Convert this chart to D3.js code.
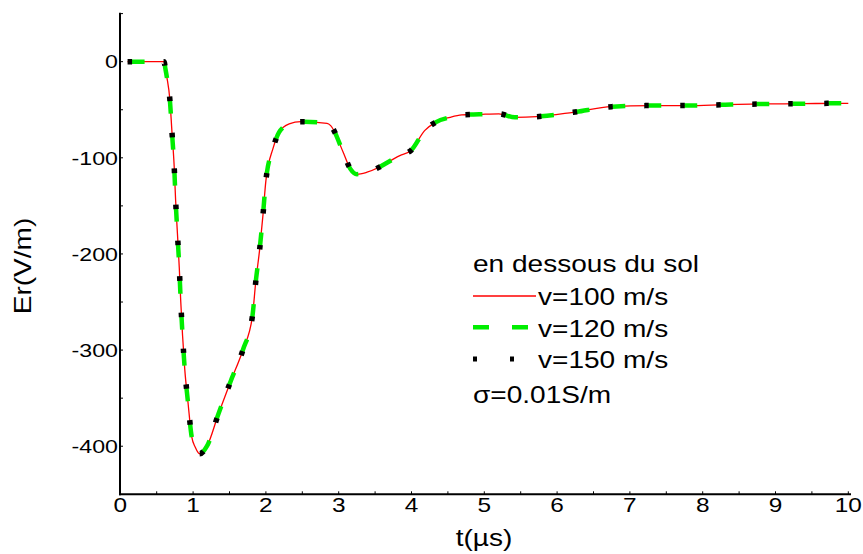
<!DOCTYPE html>
<html>
<head>
<meta charset="utf-8">
<script src="https://cdn.jsdelivr.net/npm/d3@7"></script>
<style>
  html, body { margin: 0; padding: 0; background: #fff; }
  svg { display: block; }
  text { font-family: "Liberation Sans", Arial, sans-serif; fill: #000; }
</style>
</head>
<body>
<svg id="chart" width="863" height="554"></svg>
<script>
// ---------- data ----------
const times = [0.1, 0.6, 0.62, 0.64, 0.68, 0.71, 0.74, 0.76, 0.785, 0.81, 0.83, 0.855, 0.885, 0.93, 0.98,
  1.03, 1.09, 1.19, 1.35, 1.515, 1.685, 1.815, 1.86, 1.915, 1.96, 2.0, 2.1, 2.18, 2.32, 2.48, 2.84, 2.89,
  3.06, 3.16, 3.25, 3.39, 3.84, 4.0, 4.18, 4.33, 4.53, 4.69, 4.93, 5.2, 5.42, 5.72, 6.22, 6.75, 7.28,
  7.8, 8.31, 8.84, 9.36, 9.88, 10.0];
const v100 = [0, 0, -7.6, -16.3, -38.8, -73.5, -108.8, -144.5, -179, -214, -249, -284.5, -319.5, -354.5, -389.8,
  -401, -407.8, -400, -366, -332.6, -299.7, -264.7, -229.4, -194.7, -159.4, -123.7, -89.7, -73.5, -64.8, -62.4, -64.1, -66.5,
  -93.9, -111.5, -117, -115, -97.7, -91.8, -71.7, -63.1, -57.9, -55.4, -54.8, -54.2, -57.9, -57.2, -52.7, -46.8, -45.7,
  -45.7, -44.7, -44, -43.7, -43.3, -43.3];
const v120 = [0, 0, -7.6, -16.3, -38.8, -73.5, -108.8, -144.5, -179, -214, -249, -284.5, -319.5, -354.5, -389.8,
  -401, -407.8, -400, -366, -332.6, -299.7, -264.7, -229.4, -194.7, -159.4, -123.7, -89.7, -73.5, -64.8, -62.4, -64.1, -66.5,
  -93.9, -111.5, -117, -115, -97.7, -91.8, -71.7, -63.1, -57.9, -55.4, -54.8, -54.2, -57.9, -57.2, -52.7, -46.8, -45.7,
  -45.7, -44.7, -44, -43.7, -43.3, -43.3];
const v150 = [0, 0, -7.6, -16.3, -38.8, -73.5, -108.8, -144.5, -179, -214, -249, -284.5, -319.5, -354.5, -389.8,
  -401, -407.8, -400, -366, -332.6, -299.7, -264.7, -229.4, -194.7, -159.4, -123.7, -89.7, -73.5, -64.8, -62.4, -64.1, -66.5,
  -93.9, -111.5, -117, -115, -97.7, -91.8, -71.7, -63.1, -57.9, -55.4, -54.8, -54.2, -57.9, -57.2, -52.7, -46.8, -45.7,
  -45.7, -44.7, -44, -43.7, -43.3, -43.3];
const seriesNames = ["v=100 m/s", "v=120 m/s", "v=150 m/s"];
const xTicks = [0, 1, 2, 3, 4, 5, 6, 7, 8, 9, 10];
const yTicks = [0, -100, -200, -300, -400];
const legendTitle = "en dessous du sol";
const legendNote = "\u03C3=0.01S/m";
const xTitle = "t(\u00B5s)";
const yTitle = "Er(V/m)";

// ---------- setup ----------
const svg = d3.select("#chart");
const SX = 1.22; // horizontal glyph stretch of the original
const x = d3.scaleLinear().domain([0, 10]).range([120.3, 848.3]);
const y = d3.scaleLinear().domain([-450, 50]).range([494.3, 13.6]);

function stext(g, str, px, py, size, anchor) {
  return g.append("g").attr("transform", `translate(${px},${py})`)
    .append("text").attr("transform", `scale(${SX},1)`)
    .attr("text-anchor", anchor || "start")
    .attr("font-size", size).text(str);
}

// ---------- axes ----------
const axes = svg.append("g");
axes.append("line").attr("x1", 120).attr("x2", 120).attr("y1", 12.7).attr("y2", 495.3)
  .attr("stroke", "#000").attr("stroke-width", 2);
axes.append("line").attr("x1", 119).attr("x2", 851).attr("y1", y(-450)).attr("y2", y(-450))
  .attr("stroke", "#000").attr("stroke-width", 2);

const xMinor = d3.range(0.5, 10.01, 0.5);
axes.selectAll(".xt").data(xMinor).join("line")
  .attr("x1", d => x(d)).attr("x2", d => x(d))
  .attr("y1", y(-450)).attr("y2", y(-450) - 3)
  .attr("stroke", "#000").attr("stroke-width", 1);
const yMinor = d3.range(-400, 50.1, 50);
axes.selectAll(".yt").data(yMinor).join("line")
  .attr("x1", 120).attr("x2", 123)
  .attr("y1", d => y(d)).attr("y2", d => y(d))
  .attr("stroke", "#000").attr("stroke-width", 1);

xTicks.forEach(t => stext(axes, String(t), x(t), 511.7, 20, "middle"));
yTicks.forEach(v => stext(axes, String(v), 118, y(v) + 6.8, 19, "end"));

stext(axes, xTitle, 484, 546, 23, "middle");
axes.append("g").attr("transform", `translate(31,266) rotate(-90)`)
  .append("text").attr("transform", `scale(${SX},1)`)
  .attr("text-anchor", "middle").attr("font-size", 23).text(yTitle);

// ---------- series ----------
const line = d3.line().x(d => x(d[0])).y(d => y(d[1])).curve(d3.curveMonotoneX);
const plot = svg.append("g");
plot.append("path").datum(times.map((t, i) => [t, v100[i]]))
  .attr("d", line).attr("fill", "none").attr("stroke", "#ff0000").attr("stroke-width", 1.3);
plot.append("path").datum(times.map((t, i) => [t, v120[i]]))
  .attr("d", line).attr("fill", "none").attr("stroke", "#00ee00").attr("stroke-width", 4.5)
  .attr("stroke-dasharray", "13 23").attr("stroke-dashoffset", -4);
plot.append("path").datum(times.map((t, i) => [t, v150[i]]))
  .attr("d", line).attr("fill", "none").attr("stroke", "#000").attr("stroke-width", 5.5)
  .attr("stroke-dasharray", "4.5 31.5");

// ---------- legend ----------
const lg = svg.append("g");
stext(lg, legendTitle, 473, 272.3, 23);
lg.append("line").attr("x1", 473).attr("x2", 536).attr("y1", 296).attr("y2", 296)
  .attr("stroke", "#ff0000").attr("stroke-width", 1.3);
stext(lg, seriesNames[0], 538, 305, 23);
lg.append("line").attr("x1", 473).attr("x2", 528).attr("y1", 327.3).attr("y2", 327.3)
  .attr("stroke", "#00ee00").attr("stroke-width", 4.5).attr("stroke-dasharray", "16 23");
stext(lg, seriesNames[1], 538, 336.7, 23);
lg.append("line").attr("x1", 473).attr("x2", 515).attr("y1", 359).attr("y2", 359)
  .attr("stroke", "#000").attr("stroke-width", 5).attr("stroke-dasharray", "4 33");
stext(lg, seriesNames[2], 538, 368.3, 23);
stext(lg, legendNote, 473, 403.3, 23);
</script>
</body>
</html>
